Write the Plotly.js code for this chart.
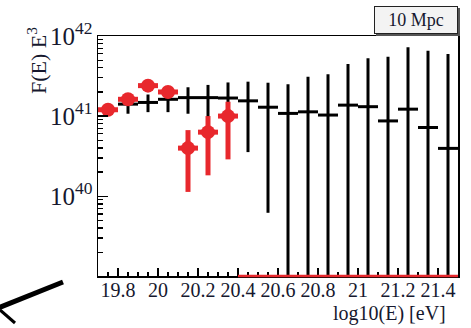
<!DOCTYPE html>
<html>
<head>
<meta charset="utf-8">
<script src="https://cdn.plot.ly/plotly-3.0.1.min.js"></script>
<style>html,body{margin:0;padding:0;background:#fff;}#chart{width:471px;height:328px;}</style>
</head>
<body>
<div id="chart"></div>
<script>
// Bin centres, log10(E) [eV]
const binCenters = [19.75,19.85,19.95,20.05,20.15,20.25,20.35,20.45,20.55,20.65,20.75,20.85,20.95,21.05,21.15,21.25,21.35,21.45];
// Black (model) histogram: value, upper and lower error ends
const blackY  = [1.20e41,1.41e41,1.48e41,1.62e41,1.70e41,1.70e41,1.68e41,1.55e41,1.29e41,1.08e41,1.13e41,1.03e41,1.37e41,1.31e41,8.7e40,1.22e41,7.2e40,3.95e40];
const blackHi = [1.41e41,1.78e41,1.86e41,2.24e41,2.29e41,2.45e41,2.63e41,2.69e41,2.61e41,2.49e41,3.10e41,3.32e41,4.47e41,5.26e41,5.51e41,7.23e41,6.55e41,5.96e41];
const blackLo = [1.02e41,1.07e41,1.12e41,1.12e41,1.07e41,9.1e40,8.7e40,3.55e40,6.2e39,0,0,0,0,0,0,0,0,0];
// Red (data) points: value, upper and lower error ends (0 = empty bin)
const redY  = [1.20e41,1.62e41,2.40e41,2.00e41,3.98e40,6.3e40,1.0e41,0,0,0,0,0,0,0,0,0,0,0];
const redHi = [1.26e41,1.70e41,2.51e41,2.09e41,6.68e40,1.0e41,1.51e41,0,0,0,0,0,0,0,0,0,0,0];
const redLo = [1.14e41,1.55e41,2.29e41,1.91e41,1.13e40,1.82e40,2.88e40,0,0,0,0,0,0,0,0,0,0,0];
const legendText = "10 Mpc";
const xTitle = "log10(E) [eV]";
const yTitle = "F(E) E<sup>3</sup>";

const halfBin = (binCenters[1]-binCenters[0])/2;
const RED = '#e8282d';

// geometry helpers (pixel -> paper) for decorations
const L=98, R=13, T=36, B=52, W=471, H=328;
const pw = W-L-R, ph = H-T-B;
const px2x = p => (p-L)/pw;
const py2y = p => (H-B-p)/ph;

const black = {
  type:'scatter', mode:'markers', x:binCenters, y:blackY,
  marker:{size:1, color:'rgba(0,0,0,0)'},
  error_y:{type:'data', symmetric:false,
    array: blackY.map((v,i)=>blackHi[i]-v),
    arrayminus: blackY.map((v,i)=>v-blackLo[i]),
    color:'#000', thickness:3, width:0},
  error_x:{type:'constant', value:halfBin, color:'#000', thickness:3, width:0},
  hoverinfo:'skip'
};

const rIdx = redY.map((v,i)=>i).filter(i=>redY[i]>0);
const red = {
  type:'scatter', mode:'markers',
  x:rIdx.map(i=>binCenters[i]), y:rIdx.map(i=>redY[i]),
  marker:{size:14, color:RED, line:{width:0}},
  error_y:{type:'data', symmetric:false,
    array: rIdx.map(i=>redHi[i]-redY[i]),
    arrayminus: rIdx.map(i=>redY[i]-redLo[i]),
    color:RED, thickness:5, width:0},
  error_x:{type:'constant', value:halfBin, color:RED, thickness:5, width:0},
  hoverinfo:'skip'
};

// empty red bins drawn along the bottom of the frame
const zIdx = redY.map((v,i)=>i).filter(i=>redY[i]===0);
const zeroX0 = binCenters[zIdx[0]]-halfBin, zeroX1 = binCenters[zIdx[zIdx.length-1]]+halfBin;

const serif = 'Liberation Serif';
const txtCol = '#16182e';

const layout = {
  width:W, height:H,
  margin:{l:L, r:R, t:T, b:B, pad:0},
  paper_bgcolor:'#fff', plot_bgcolor:'#fff',
  showlegend:false,
  xaxis:{range:[19.7,21.5], dtick:0.2, tick0:0, ticks:'inside', ticklen:8, tickwidth:1.3, tickcolor:'#000',
    showline:true, linecolor:'#000', linewidth:1.5, mirror:true, showgrid:false, zeroline:false,
    ticklabelstandoff:-5,
    tickfont:{family:serif, size:20, color:txtCol},
    minor:{ticks:'inside', ticklen:4, dtick:0.05, tick0:0, tickcolor:'#000', tickwidth:1.2, showgrid:false}},
  yaxis:{type:'log', range:[39.003,42], dtick:1, exponentformat:'power', ticks:'inside', ticklen:10, tickwidth:1.3, tickcolor:'#000',
    showline:true, linecolor:'#000', linewidth:1.5, mirror:true, showgrid:false, zeroline:false,
    tickfont:{family:serif, size:20, color:txtCol},
    minor:{ticks:'inside', ticklen:5, dtick:'D1', tickcolor:'#000', tickwidth:1.2, showgrid:false}},
  shapes:[
    {type:'line', xref:'x', yref:'paper', x0:zeroX0, x1:zeroX1, y0:0, y1:0, line:{color:RED, width:2.5}, layer:'above'},
    {type:'rect', xref:'paper', yref:'paper', x0:px2x(376), x1:px2x(460), y0:py2y(36), y1:py2y(8), fillcolor:'#555', line:{width:0}},
    {type:'line', xref:'paper', yref:'paper', x0:px2x(63), y0:py2y(282), x1:px2x(-2), y1:py2y(308), line:{color:'#000', width:5}},
    {type:'line', xref:'paper', yref:'paper', x0:px2x(0), y0:py2y(310), x1:px2x(15), y1:py2y(323), line:{color:'#000', width:3}}
  ],
  annotations:[
    {text:legendText, xref:'paper', yref:'paper', x:px2x(416), y:py2y(20), xanchor:'center', yanchor:'middle',
     showarrow:false, width:80, height:24, borderpad:1, borderwidth:1, bordercolor:'#222', bgcolor:'#f3f3f3',
     font:{family:serif, size:18, color:txtCol}},
    {text:yTitle, xref:'paper', yref:'paper', x:px2x(37), y:py2y(61), xanchor:'center', yanchor:'middle',
     textangle:-90, showarrow:false, font:{family:serif, size:22, color:txtCol}},
    {text:xTitle, xref:'paper', yref:'paper', x:px2x(448), y:py2y(313), xanchor:'right', yanchor:'middle',
     showarrow:false, font:{family:serif, size:20, color:txtCol}}
  ]
};

Plotly.newPlot('chart', [black, red], layout, {staticPlot:true, displayModeBar:false});
</script>
</body>
</html>
